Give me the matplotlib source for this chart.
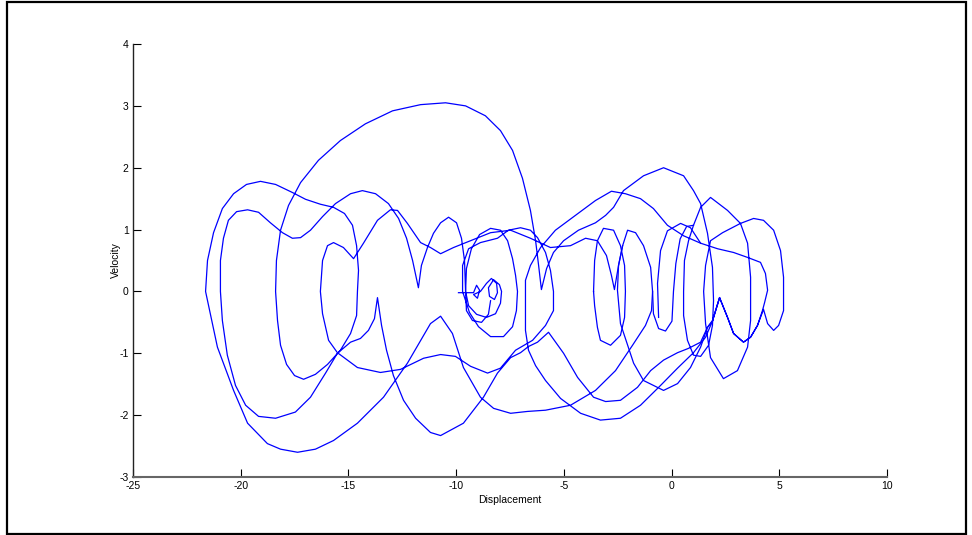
import numpy as np
import matplotlib.pyplot as plt
from matplotlib.patches import Rectangle

plt.rcParams['axes.unicode_minus'] = False

# phase-plane trajectory, split into pieces (displacement, velocity)
start_loops = [(-9.89, -0.02), (-9.52, -0.02), (-9.19, -0.02), (-9.05, 0.10), (-8.91, 0.02),
               (-9.01, -0.11), (-9.19, -0.05), (-8.87, 0.00), (-8.59, 0.13), (-8.36, 0.21),
               (-8.12, 0.13), (-8.08, -0.02), (-8.22, -0.13), (-8.45, -0.08), (-8.50, 0.06),
               (-8.26, 0.19), (-7.99, 0.11), (-7.89, 0.00),
               (-7.94, -0.19), (-8.17, -0.36), (-8.59, -0.42), (-9.05, -0.37), (-9.42, -0.23), (-9.56, 0.00)]
center_loops = [(-9.52, 0.37), (-9.29, 0.69), (-8.91, 0.92), (-8.40, 1.02), (-7.94, 0.99), (-7.61, 0.82),
                (-7.38, 0.53), (-7.24, 0.26), (-7.15, 0.00),
                (-7.20, -0.31), (-7.38, -0.57), (-7.80, -0.73), (-8.40, -0.73), (-8.96, -0.57), (-9.38, -0.34), (-9.70, 0.00),
                (-9.70, 0.42), (-9.42, 0.69), (-8.87, 0.79), (-8.08, 0.86), (-7.57, 0.99), (-7.01, 1.03),
                (-6.55, 0.99), (-6.22, 0.87), (-5.85, 0.63), (-5.62, 0.34), (-5.48, 0.00)]
lower_to_left = [(-5.48, -0.31), (-5.85, -0.55), (-6.45, -0.79), (-7.24, -0.95), (-7.94, -1.24), (-8.54, -1.32),
                 (-9.33, -1.21), (-10.03, -1.05), (-10.72, -1.02), (-11.51, -1.08), (-12.58, -1.26), (-13.51, -1.31),
                 (-14.58, -1.23), (-15.51, -0.99), (-15.92, -0.79), (-16.20, -0.36), (-16.30, 0.00)]
wavy_upper = [(-16.20, 0.50), (-15.97, 0.74), (-15.69, 0.79), (-15.23, 0.71), (-14.76, 0.53), (-14.30, 0.78),
              (-13.65, 1.15), (-13.05, 1.32), (-12.72, 1.31), (-12.26, 1.10), (-11.65, 0.79), (-11.19, 0.71),
              (-10.72, 0.61), (-10.12, 0.71), (-9.33, 0.82), (-8.40, 0.95), (-7.47, 0.99), (-6.55, 0.86),
              (-5.62, 0.71), (-4.69, 0.74), (-3.99, 0.86), (-3.44, 0.82), (-3.02, 0.58), (-2.79, 0.26),
              (-2.65, 0.03), (-2.46, 0.42), (-2.27, 0.74), (-2.04, 0.99), (-1.67, 0.95), (-1.30, 0.74),
              (-0.97, 0.39), (-0.88, 0.00)]
outer_lower = [(-0.93, -0.31), (-1.21, -0.55), (-1.81, -0.87), (-2.60, -1.28), (-3.53, -1.60), (-4.69, -1.84),
               (-5.85, -1.92), (-6.69, -1.94), (-7.47, -1.97), (-8.26, -1.89), (-8.87, -1.71), (-9.66, -1.23),
               (-10.17, -0.68), (-10.72, -0.40), (-11.19, -0.52), (-12.26, -1.16), (-13.37, -1.71), (-14.58, -2.13),
               (-15.69, -2.41), (-16.53, -2.55), (-17.36, -2.60), (-18.15, -2.55), (-18.76, -2.46), (-19.68, -2.13),
               (-20.33, -1.60), (-21.08, -0.90), (-21.54, -0.15), (-21.63, 0.00)]
outer_upper = [(-21.54, 0.50), (-21.26, 0.95), (-20.85, 1.34), (-20.33, 1.58), (-19.73, 1.73), (-19.08, 1.78),
               (-18.38, 1.73), (-17.60, 1.60), (-16.99, 1.49), (-16.30, 1.41), (-15.69, 1.36), (-15.18, 1.26),
               (-14.81, 1.07), (-14.62, 0.74), (-14.53, 0.34), (-14.58, 0.00),
               (-14.62, -0.39), (-14.90, -0.68), (-15.37, -0.95), (-15.97, -1.18), (-16.53, -1.34), (-17.08, -1.42),
               (-17.50, -1.36), (-17.87, -1.18), (-18.15, -0.87), (-18.29, -0.47), (-18.38, 0.00)]
big_arc = [(-18.34, 0.50), (-18.15, 0.99), (-17.78, 1.39), (-17.22, 1.76), (-16.39, 2.12), (-15.37, 2.44),
           (-14.21, 2.71), (-12.95, 2.92), (-11.65, 3.02), (-10.49, 3.05), (-9.56, 3.00), (-8.64, 2.84),
           (-7.94, 2.60), (-7.38, 2.28), (-6.92, 1.83), (-6.55, 1.31), (-6.31, 0.82), (-6.17, 0.42), (-6.04, 0.03)]
right_arc = [(-5.80, 0.37), (-5.48, 0.63), (-5.01, 0.82), (-4.32, 0.99), (-3.53, 1.11), (-3.06, 1.23),
             (-2.69, 1.36), (-2.23, 1.63), (-1.30, 1.87), (-0.37, 2.00), (0.56, 1.87), (1.02, 1.63),
             (1.35, 1.42), (1.67, 0.94), (1.90, 0.39), (1.95, -0.15),
             (1.90, -0.55), (1.72, -0.87), (1.35, -1.05), (1.02, -1.03), (0.74, -0.79), (0.56, -0.39), (0.56, 0.00)]
right_loops = [(0.60, 0.50), (0.79, 0.82), (1.02, 1.07), (1.35, 1.36), (1.81, 1.52), (2.60, 1.31),
               (3.20, 1.10), (3.53, 0.78), (3.67, 0.23), (3.67, 0.00),
               (3.67, -0.47), (3.53, -0.90), (3.06, -1.28), (2.41, -1.41), (1.81, -1.07), (1.58, -0.52), (1.49, 0.00),
               (1.58, 0.42), (1.81, 0.82), (2.37, 0.95), (3.20, 1.10), (3.81, 1.18), (4.27, 1.15),
               (4.74, 0.99), (5.06, 0.66), (5.20, 0.23), (5.20, 0.00),
               (5.20, -0.31), (4.97, -0.55), (4.74, -0.63), (4.46, -0.52), (4.27, -0.29), (3.99, -0.55),
               (3.67, -0.74), (3.34, -0.82), (2.88, -0.68), (2.60, -0.42), (2.23, -0.10)]
deep_lower = [(1.90, -0.48), (1.58, -0.74), (1.02, -0.99), (0.28, -1.24), (-0.51, -1.52), (-1.44, -1.84),
              (-2.37, -2.05), (-3.30, -2.08), (-4.22, -1.97), (-5.15, -1.73), (-5.85, -1.44), (-6.31, -1.20),
              (-6.64, -0.95), (-6.78, -0.63), (-6.78, -0.23), (-6.78, 0.18)]
long_arc = [(-6.55, 0.42), (-6.08, 0.71), (-5.39, 0.99), (-4.46, 1.23), (-3.53, 1.47), (-2.79, 1.62),
            (-2.14, 1.58), (-1.44, 1.50), (-0.84, 1.34), (-0.19, 1.07), (0.56, 0.90), (1.35, 0.78),
            (2.14, 0.69), (2.88, 0.63), (3.53, 0.55), (4.13, 0.47), (4.36, 0.29), (4.46, 0.02),
            (4.32, -0.18), (4.22, -0.31)]
long_lower = [(3.99, -0.55), (3.67, -0.74), (3.34, -0.82), (2.88, -0.68), (2.60, -0.42), (2.23, -0.10),
              (1.90, -0.48), (1.67, -0.58), (1.35, -0.82), (0.79, -0.92), (0.28, -0.99), (-0.37, -1.11),
              (-0.97, -1.28), (-1.58, -1.55), (-2.37, -1.76), (-3.06, -1.78), (-3.62, -1.71), (-4.36, -1.39),
              (-5.01, -1.00), (-5.71, -0.66), (-6.22, -0.82), (-6.64, -0.89), (-7.01, -0.99), (-7.47, -1.07),
              (-8.08, -1.32), (-8.73, -1.71), (-9.66, -2.13), (-10.72, -2.33), (-11.19, -2.28), (-11.88, -2.05),
              (-12.44, -1.76), (-12.91, -1.36), (-13.23, -0.95), (-13.46, -0.55), (-13.65, -0.10),
              (-13.79, -0.44), (-14.07, -0.63), (-14.44, -0.76), (-14.90, -0.82), (-15.51, -1.00), (-16.06, -1.32),
              (-16.76, -1.71), (-17.46, -1.95), (-18.38, -2.05), (-19.17, -2.02), (-19.77, -1.84), (-20.24, -1.52),
              (-20.62, -1.03), (-20.85, -0.47), (-20.94, 0.00)]
inner_upper = [(-20.94, 0.50), (-20.80, 0.86), (-20.57, 1.15), (-20.19, 1.29), (-19.68, 1.32), (-19.17, 1.28),
               (-18.62, 1.11), (-18.06, 0.95), (-17.60, 0.86), (-17.22, 0.87), (-16.76, 0.99), (-16.20, 1.21),
               (-15.60, 1.42), (-14.90, 1.58), (-14.35, 1.63), (-13.74, 1.58), (-13.14, 1.42), (-12.67, 1.18),
               (-12.30, 0.86), (-12.02, 0.50), (-11.75, 0.06),
               (-11.61, 0.42), (-11.33, 0.71), (-11.05, 0.94), (-10.72, 1.11), (-10.35, 1.20), (-9.98, 1.11),
               (-9.75, 0.86), (-9.61, 0.50), (-9.56, 0.00), (-9.52, -0.31), (-9.24, -0.47), (-8.82, -0.50),
               (-8.50, -0.37), (-8.40, -0.15)]

oval_right_center = [(-3.62, 0.00), (-3.57, 0.50), (-3.44, 0.82), (-3.16, 1.02), (-2.69, 0.99), (-2.37, 0.74),
                     (-2.18, 0.42), (-2.14, 0.00), (-2.18, -0.42), (-2.37, -0.71), (-2.83, -0.87), (-3.30, -0.79),
                     (-3.44, -0.58), (-3.57, -0.23), (-3.62, 0.00)]
trough_right = [(2.23, -0.10), (1.90, -0.47), (1.67, -0.58), (1.35, -0.90), (0.88, -1.23), (0.28, -1.49),
                (-0.37, -1.60), (-1.30, -1.44), (-1.76, -1.16), (-2.37, -0.52), (-2.51, 0.02), (-2.46, 0.42),
                (-2.27, 0.74)]
small_u_right = [(-0.88, 0.00), (-0.84, -0.36), (-0.60, -0.60), (-0.28, -0.64), (0.02, -0.48), (0.09, 0.00),
                 (0.20, 0.45), (0.40, 0.85), (0.70, 1.05), (1.02, 1.07)]
arc_e_right = [(-0.60, -0.42), (-0.65, 0.13), (-0.51, 0.66), (-0.19, 0.98), (0.42, 1.10), (0.88, 1.03),
               (1.35, 0.78)]

pieces = [start_loops, center_loops, lower_to_left, wavy_upper, outer_lower, outer_upper, big_arc,
          right_arc, right_loops, deep_lower, long_arc, long_lower, inner_upper]
displacement = np.array([p[0] for piece in pieces for p in piece])
velocity = np.array([p[1] for piece in pieces for p in piece])
strands = [oval_right_center, trough_right, small_u_right, arc_e_right]

fig = plt.figure(figsize=(9.72, 5.35), dpi=100)
fig.patches.append(Rectangle((0.007, 0.002), 0.987, 0.995, transform=fig.transFigure,
                             fill=False, edgecolor='black', linewidth=1.6))

ax = fig.add_axes([0.1368, 0.1084, 0.7757, 0.8093])
ax.plot(displacement, velocity, color='blue', linewidth=0.9, solid_joinstyle='round')
for s in strands:
    ax.plot([p[0] for p in s], [p[1] for p in s], color='blue', linewidth=0.9, solid_joinstyle='round')

ax.set_xlim(-25, 10)
ax.set_ylim(-3, 4)
ax.set_xticks(np.arange(-25, 11, 5))
ax.set_yticks(np.arange(-3, 5, 1))
ax.spines['top'].set_visible(False)
ax.spines['right'].set_visible(False)
ax.spines['left'].set_color('#222222')
ax.spines['bottom'].set_color('#666666')
ax.spines['left'].set_linewidth(1.0)
ax.spines['bottom'].set_linewidth(1.5)
ax.tick_params(direction='in', length=6, width=0.8, labelsize=7.5, pad=3)
ax.set_xlabel('Displacement', fontsize=7.5, labelpad=3)
ax.set_ylabel('Velocity', fontsize=7.5, labelpad=-1)
for lab in ax.get_xticklabels() + ax.get_yticklabels():
    lab.set_family('Liberation Sans')
ax.xaxis.label.set_family('Liberation Sans')
ax.yaxis.label.set_family('Liberation Sans')

fig.savefig('out.png', dpi=100)
